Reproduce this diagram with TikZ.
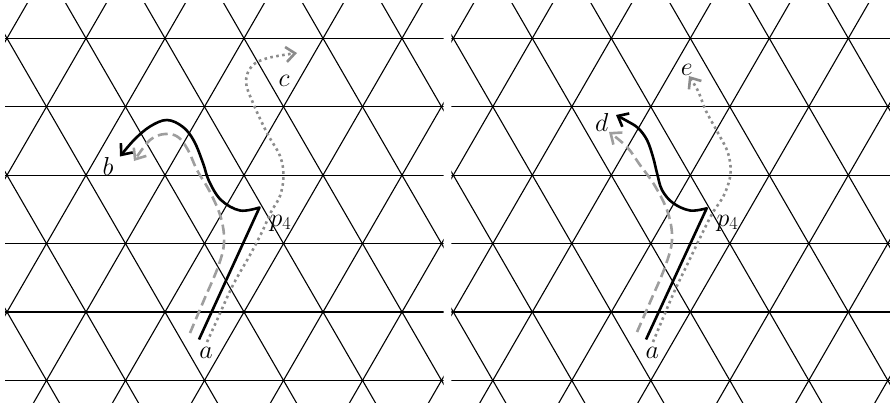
\RequirePackage{fix-cm}
\documentclass[tikz,border=0pt]{standalone}
\usetikzlibrary{arrows.meta}
\definecolor{dashgray}{gray}{0.62}
\definecolor{dotgray}{gray}{0.55}
\begin{document}
\begin{tikzpicture}[x=1pt,y=-1pt,
  lat/.style={line width=1.1pt, black},
  tipstyle/.style={-{Straight Barb[length=9pt,width=15pt]}},
  blk/.style={line width=2.6pt, black, line join=round, tipstyle},
  dsh/.style={line width=2.6pt, dashgray, dash pattern=on 10pt off 5pt, tipstyle},
  dtt/.style={line width=2.6pt, dotgray, dash pattern=on 2.6pt off 3.4pt, tipstyle},
  lbl/.style={font=\fontsize{26}{30}\selectfont, inner sep=0pt, anchor=base}]
\useasboundingbox (0,0) rectangle (890,404);
% lattices
\foreach \xo in {7,453.3}{
  \begin{scope}
    \clip (\xo-2,4) rectangle (\xo+436.5,402.5);
    \foreach \r in {0,...,5}
      \draw[lat] (\xo-10,38.3+68.42*\r) -- (\xo+450,38.3+68.42*\r);
    \foreach \k in {-7,...,12}{
      \draw[lat] ({\xo+79*(\k)-79.85},-100) -- ({\xo+79*(\k)+278.1},520);
      \draw[lat] ({\xo+79*(\k)+79.85},-100) -- ({\xo+79*(\k)-278.1},520);
    }
  \end{scope}
}
% ---------- left panel ----------
\coordinate (aL) at (199,339.5);
\coordinate (pL) at (259.5,207.5);
\draw[blk] (aL) -- plot[smooth,tension=0.6] coordinates {(pL) (240,210.5) (221,200) (209,181) (203,163) (194,141) (183,127) (167,120) (150,126.5) (134,140) (120,156.5)};
\draw[dsh] plot[smooth,tension=0.6] coordinates {(190,333) (204,300) (218,267) (224,243) (221,218) (210,192) (197,170) (188,150) (178,137) (165,134) (150,140) (134,161)};
\draw[dtt] plot[smooth,tension=0.6] coordinates {(207,342) (217,320) (233,285) (250,255) (262,232) (271,212) (280,196) (283.5,176) (280,156) (267,133) (253,103) (246,82) (252,66) (268,58) (297,53)};
\node[lbl] (la) at (206,358.3) {$a$};
\node[lbl] (lb) at (108,175) {$b$};
\node[lbl] (lc) at (284,86.7) {$c$};
\node[lbl] (lp) at (280.5,226) {$p_4$};
% ---------- right panel ----------
\coordinate (aR) at (646,339.5);
\coordinate (pR) at (706.7,208.3);
\draw[blk] (aR) -- plot[smooth,tension=0.6] coordinates {(pR) (690,210.5) (673,203) (662,190) (657,173) (653,157) (647,140) (638,128) (627,121) (616,115)};
\draw[dsh] plot[smooth,tension=0.6] coordinates {(637,332) (651,300) (665,267) (672,240) (668,213) (655,186) (640,165) (627,147) (609,132)};
\draw[dtt] plot[smooth,tension=0.6] coordinates {(653,342) (663,318) (675,290) (687,265) (699,240) (712,214) (724,195) (730.5,174) (728,153) (718,133) (706,111) (698,91) (689,76)};
\node[lbl] (ra) at (652.3,358.3) {$a$};
\node[lbl] (rd) at (601.7,131.7) {$d$};
\node[lbl] (re) at (686.7,75) {$e$};
\node[lbl] (rp) at (727.5,226) {$p_4$};
\end{tikzpicture}
\end{document}
